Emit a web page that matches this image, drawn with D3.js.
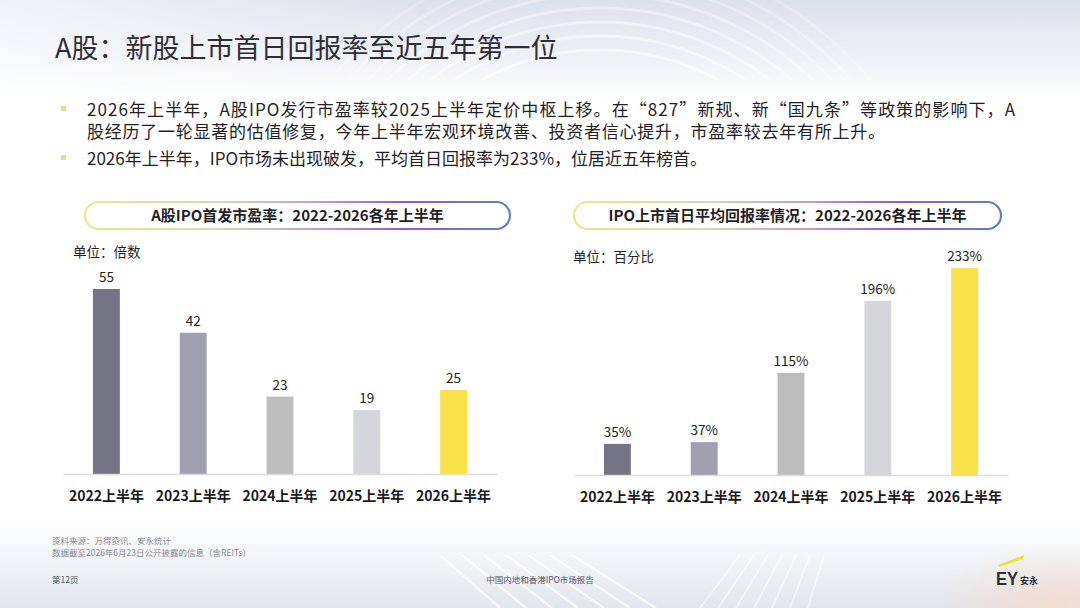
<!DOCTYPE html>
<html>
<head>
<meta charset="utf-8">
<script src="https://cdn.jsdelivr.net/npm/d3@7"></script>
<style>
  html, body { margin: 0; padding: 0; background: #fff; }
  svg { display: block; font-family: "Noto Sans CJK SC", "Noto Sans", sans-serif; }
</style>
</head>
<body>
<div id="slide"></div>
<script>
// Dữ liệu của hai biểu đồ
const categories = ["2022上半年", "2023上半年", "2024上半年", "2025上半年", "2026上半年"];
const peValues = [55, 42, 23, 19, 25];          // 市盈率 (倍数)
const returnValues = [35, 37, 115, 196, 233];    // 首日平均回报率 (%)

const barColors = ["#747486", "#a0a0b0", "#bdbdbd", "#d5d5dc", "#f9e24a"];

const W = 1080, H = 608;
const svg = d3.select("#slide").append("svg").attr("width", W).attr("height", H);
const defs = svg.append("defs");

// --- nền ---
const topGrad = defs.append("linearGradient").attr("id", "topGrad")
  .attr("x1", 0).attr("y1", 0).attr("x2", 0).attr("y2", 1);
topGrad.append("stop").attr("offset", "0%").attr("stop-color", "#dce2eb");
topGrad.append("stop").attr("offset", "55%").attr("stop-color", "#edf0f5");
topGrad.append("stop").attr("offset", "100%").attr("stop-color", "#ffffff");

const sideGrad = defs.append("linearGradient").attr("id", "sideGrad")
  .attr("x1", 0).attr("y1", 0).attr("x2", 1).attr("y2", 0);
sideGrad.append("stop").attr("offset", "0%").attr("stop-color", "#ffffff").attr("stop-opacity", 0.6);
sideGrad.append("stop").attr("offset", "40%").attr("stop-color", "#ffffff").attr("stop-opacity", 0);
sideGrad.append("stop").attr("offset", "100%").attr("stop-color", "#ffffff").attr("stop-opacity", 0);

const botGrad = defs.append("linearGradient").attr("id", "botGrad")
  .attr("x1", 0).attr("y1", 0).attr("x2", 0).attr("y2", 1);
botGrad.append("stop").attr("offset", "0%").attr("stop-color", "#ffffff");
botGrad.append("stop").attr("offset", "100%").attr("stop-color", "#e1e6ee");

const peach = defs.append("radialGradient").attr("id", "peach")
  .attr("cx", 0.5).attr("cy", 0.5).attr("r", 0.5);
peach.append("stop").attr("offset", "0%").attr("stop-color", "#f6dccd").attr("stop-opacity", 0.9);
peach.append("stop").attr("offset", "100%").attr("stop-color", "#f6dccd").attr("stop-opacity", 0);

svg.append("rect").attr("width", W).attr("height", 100).attr("fill", "url(#topGrad)");
svg.append("rect").attr("width", W).attr("height", 100).attr("fill", "url(#sideGrad)");
svg.append("rect").attr("y", 520).attr("width", W).attr("height", 88).attr("fill", "url(#botGrad)");
svg.append("ellipse").attr("cx", 1060).attr("cy", 605).attr("rx", 130).attr("ry", 60).attr("fill", "url(#peach)");

defs.append("clipPath").attr("id", "topClip").append("rect").attr("width", W).attr("height", 80);
const arcs = svg.append("g").attr("clip-path", "url(#topClip)");
d3.range(8).forEach(i => {
  arcs.append("circle").attr("cx", 600).attr("cy", 300).attr("r", 250 + i * 14)
    .attr("fill", "none").attr("stroke", "#ffffff").attr("stroke-width", 3)
    .attr("stroke-opacity", 0.5 - i * 0.04);
});
defs.append("clipPath").attr("id", "botClip").append("rect").attr("y", 555).attr("width", W).attr("height", 53);
const streaks = svg.append("g").attr("clip-path", "url(#botClip)");
d3.range(7).forEach(i => {
  streaks.append("line").attr("x1", 440 + i * 22).attr("y1", 555).attr("x2", 500 + i * 26).attr("y2", 608)
    .attr("stroke", "#ffffff").attr("stroke-width", 2.5).attr("stroke-opacity", 0.7);
  streaks.append("line").attr("x1", 700 + i * 18).attr("y1", 608).attr("x2", 740 + i * 14).attr("y2", 555)
    .attr("stroke", "#ffffff").attr("stroke-width", 2).attr("stroke-opacity", 0.5);
});

// --- tiêu đề & gạch đầu dòng ---
svg.append("text").attr("x", 55).attr("y", 58)
  .attr("font-size", 27).attr("fill", "#2e2e38").text("A股：新股上市首日回报率至近五年第一位");

const bullets = [
  { y: 116, lines: ["2026年上半年，A股IPO发行市盈率较2025上半年定价中枢上移。在“827”新规、新“国九条”等政策的影响下，A",
                    "股经历了一轮显著的估值修复，今年上半年宏观环境改善、投资者信心提升，市盈率较去年有所上升。"], len: [928, 798] },
  { y: 165, lines: ["2026年上半年，IPO市场未出现破发，平均首日回报率为233%，位居近五年榜首。"], len: [null] }
];
bullets.forEach(b => {
  svg.append("rect").attr("x", 61).attr("y", b.y - 10).attr("width", 5).attr("height", 5).attr("fill", "#e4df84");
  b.lines.forEach((ln, i) => {
    const t = svg.append("text").attr("x", 87).attr("y", b.y + i * 22)
      .attr("font-size", 17).attr("fill", "#1f1f28").text(ln);
    if (b.len[i]) t.attr("textLength", b.len[i]).attr("lengthAdjust", "spacing");
  });
});

// --- khung tiêu đề dạng viên thuốc ---
function pill(id, x0, x1, label) {
  const g = defs.append("linearGradient").attr("id", id)
    .attr("gradientUnits", "userSpaceOnUse").attr("x1", x0).attr("x2", x1).attr("y1", 0).attr("y2", 0);
  [["0%", "#ece78a"], ["30%", "#e2d7a6"], ["55%", "#c99ac8"], ["75%", "#9b55d2"], ["100%", "#5c84c2"]]
    .forEach(([o, c]) => g.append("stop").attr("offset", o).attr("stop-color", c));
  svg.append("rect").attr("x", x0).attr("y", 202).attr("width", x1 - x0).attr("height", 27)
    .attr("rx", 13.5).attr("fill", "#fff").attr("stroke", `url(#${id})`).attr("stroke-width", 2.2);
  svg.append("text").attr("x", (x0 + x1) / 2).attr("y", 221).attr("text-anchor", "middle")
    .attr("font-size", 15).attr("font-weight", 700).attr("fill", "#1f1f28").text(label);
}
pill("pillL", 85, 510, "A股IPO首发市盈率：2022-2026各年上半年");
pill("pillR", 574, 1001, "IPO上市首日平均回报率情况：2022-2026各年上半年");

// --- biểu đồ cột ---
function barChart(values, xRange, baseY, topY, unitX, unitY, unitText, fmt) {
  const x = d3.scaleBand().domain(categories).range(xRange).paddingInner(0.69).paddingOuter(0.345);
  const y = d3.scaleLinear().domain([0, d3.max(values)]).range([baseY, topY]);
  const g = svg.append("g");

  g.append("text").attr("x", unitX).attr("y", unitY).attr("font-size", 13.5)
    .attr("fill", "#1f1f28").text(unitText);

  g.selectAll(".bar").data(values).join("rect")
    .attr("x", (d, i) => x(categories[i]))
    .attr("y", d => y(d))
    .attr("width", x.bandwidth())
    .attr("height", d => baseY - y(d))
    .attr("fill", (d, i) => barColors[i]);

  g.selectAll(".val").data(values).join("text")
    .attr("x", (d, i) => x(categories[i]) + x.bandwidth() / 2)
    .attr("y", d => y(d) - 7)
    .attr("text-anchor", "middle").attr("font-size", 13.5).attr("fill", "#222")
    .text(fmt);

  const axis = g.append("g").attr("transform", `translate(0,${baseY})`)
    .call(d3.axisBottom(x).tickSize(0).tickPadding(17));
  axis.select(".domain").attr("stroke", "#dcdcdc").attr("stroke-width", 1.5);
  axis.selectAll("text").attr("font-size", 14).attr("font-weight", 700).attr("fill", "#1a1a22")
    .attr("font-family", "\"Noto Sans CJK SC\", sans-serif");
}
barChart(peValues, [63, 497], 474, 289, 73, 257, "单位：倍数", d => d);
barChart(returnValues, [574, 1008], 475, 268, 573, 262, "单位：百分比", d => d + "%");

// --- chân trang ---
svg.append("text").attr("x", 52).attr("y", 544).attr("font-size", 8.5).attr("fill", "#8a8a94").text("资料来源：万得资讯、安永统计");
svg.append("text").attr("x", 52).attr("y", 556).attr("font-size", 8.5).attr("fill", "#8a8a94").text("数据截至2026年6月23日公开披露的信息（含REITs）");
svg.append("text").attr("x", 52).attr("y", 583).attr("font-size", 8.5).attr("fill", "#55555f").text("第12页");
svg.append("text").attr("x", 540).attr("y", 583).attr("text-anchor", "middle").attr("font-size", 8.5).attr("fill", "#55555f").text("中国内地和香港IPO市场报告");

// logo EY
svg.append("path").attr("d", "M998,565 L1024,555 L1023,559 L999,567 Z").attr("fill", "#e8e23a");
svg.append("text").attr("x", 996).attr("y", 585).attr("font-size", 19).attr("font-weight", 700)
  .attr("font-family", "\"Liberation Sans\", Arial, sans-serif").attr("fill", "#2e2e38")
  .attr("textLength", 22).attr("lengthAdjust", "spacingAndGlyphs").text("EY");
svg.append("text").attr("x", 1020).attr("y", 584).attr("font-size", 9).attr("font-weight", 700)
  .attr("fill", "#2e2e38").text("安永");
</script>
</body>
</html>
